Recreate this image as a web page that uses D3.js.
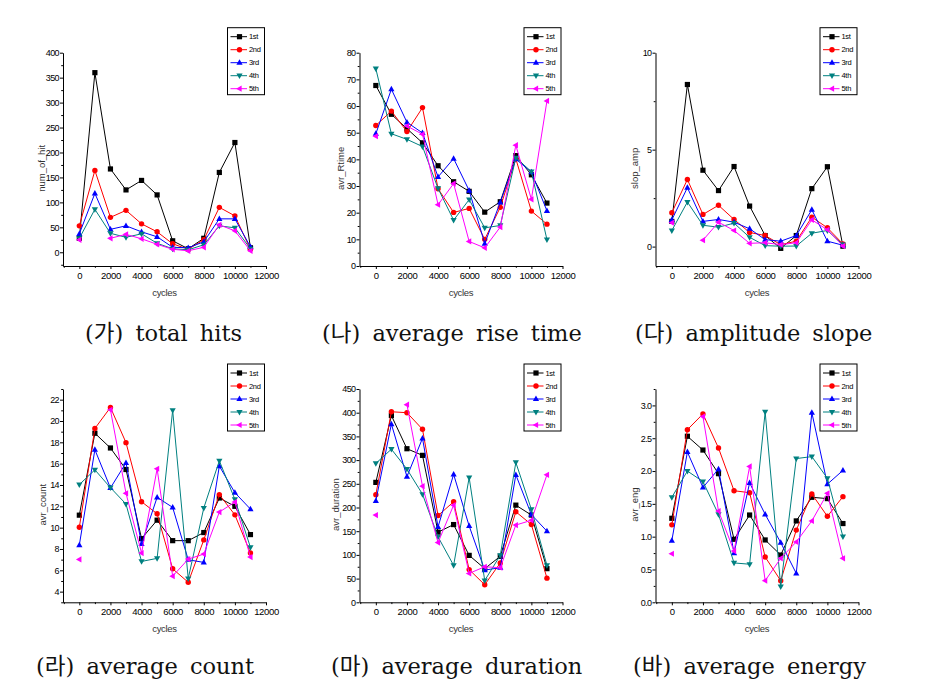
<!DOCTYPE html>
<html>
<head>
<meta charset="utf-8">
<script src="https://cdn.jsdelivr.net/npm/d3@7"></script>
<style>
  html, body { margin: 0; padding: 0; background: #fff; }
  svg { display: block; }
</style>
</head>
<body>
<svg id="chart" width="947" height="683"></svg>
<script>
// ---------------- DATA ----------------
const cycles = [0, 1000, 2000, 3000, 4000, 5000, 6000, 7000, 8000, 9000, 10000, 11000];
const seriesNames = ["1st", "2nd", "3rd", "4th", "5th"];
const xMajorTicks = [0, 2000, 4000, 6000, 8000, 10000, 12000];
const xMinorTicks = [-1000, 1000, 3000, 5000, 7000, 9000, 11000];

// rows: 1st, 2nd, 3rd, 4th, 5th
const totalHits = [
  [28, 360, 167, 125, 144, 115, 23, 7, 28, 160, 220, 9],
  [53, 164, 70, 84, 57, 41, 17, 6, 25, 90, 73, 6],
  [37, 118, 46, 53, 41, 31, 10, 9, 21, 67, 67, 11],
  [28, 86, 38, 30, 37, 18, 7, 5, 15, 53, 49, 7],
  [25, null, 28, 36, 27, 16, 6, 3, 10, 55, 43, 3]
];
const riseTime = [
  [67.7, 56.9, 51.5, 46.2, 37.6, 31.6, 28, 20.2, 24.1, 41.4, 34.2, 23.6],
  [52.7, 58.1, 50.4, 59.4, 29, 20.1, 21.6, 10, 22, 40.2, 20.6, 15.7],
  [49.6, 66.3, 53.9, 49.9, 33.4, 40.3, 28.3, 8.4, 23.9, 40.1, 35.2, 20.7],
  [74, 49.6, 47.5, 44.8, 29.1, 17.2, 24.9, 14.3, 15.2, 40.6, 35.4, 9.9],
  [48.7, null, 52.5, 49.4, 23, 30.9, 9.2, 6.8, 14.6, 45.3, 25, 61.9]
];
const ampSlope = [
  [1.3, 8.36, 3.94, 2.89, 4.13, 2.09, 0.57, -0.09, 0.57, 2.99, 4.12, 0.02],
  [1.75, 3.46, 1.66, 2.13, 1.4, 0.73, 0.57, 0.1, 0.28, 1.52, 0.97, 0.14],
  [1.38, 3.04, 1.3, 1.4, 1.26, 0.92, 0.36, 0.28, 0.57, 1.9, 0.28, 0.07],
  [0.83, 2.3, 1.1, 1.0, 1.21, 0.48, 0.05, 0.02, 0.03, 0.69, 0.83, 0.1],
  [1.23, null, 0.33, 1.26, 0.83, 0.17, 0.2, 0.1, 0.2, 1.38, 0.87, 0.03]
];
const avgCount = [
  [11.17, 18.85, 17.47, 15.45, 8.97, 10.7, 8.78, 8.78, 9.54, 12.78, 12.0, 9.35],
  [10.04, 19.3, 21.27, 17.97, 12.43, 11.3, 6.14, 4.88, 8.85, 13.1, 11.2, 7.62],
  [8.37, 17.31, 13.72, 16.08, 8.47, 12.84, 11.9, 6.99, 6.74, 15.77, 13.28, 11.74],
  [14.04, 15.42, 13.75, 12.21, 6.83, 7.12, 21.0, 5.23, 11.84, 16.27, 12.65, 8.15],
  [7.02, null, 21.05, 13.22, 7.62, 15.52, 5.45, 7.05, 7.52, 11.46, 12.4, 7.24]
];
const avgDuration = [
  [253, 394, 324, 310, 148, 164, 99, 71, 97, 205, 184, 71],
  [227, 402, 400, 365, 183, 212, 69, 37, 83, 191, 164, 51],
  [214, 376, 265, 346, 159, 270, 161, 68, 73, 269, 185, 150],
  [293, 323, 281, 228, 138, 78, 263, 46, 99, 295, 196, 78],
  [184, null, 417, 245, 126, 205, 61, 75, 73, 163, 173, 269]
];
const avgEnergy = [
  [1.28, 2.53, 2.32, 1.96, 0.96, 1.33, 0.95, 0.72, 1.24, 1.6, 1.58, 1.2],
  [1.18, 2.63, 2.87, 2.35, 1.70, 1.67, 0.69, 0.33, 1.1, 1.65, 1.31, 1.61],
  [0.94, 2.29, 1.75, 2.03, 0.75, 1.82, 1.34, 0.91, 0.44, 2.89, 1.80, 2.01],
  [1.6, 2.0, 1.84, 1.34, 0.6, 0.58, 2.9, 0.24, 2.19, 2.22, 1.89, 1.0],
  [0.74, null, 2.83, 1.39, 0.78, 2.07, 0.33, 0.67, 0.92, 1.24, 1.66, 0.67]
];

const hitsTicks = [0, 50, 100, 150, 200, 250, 300, 350, 400];
const riseTicks = [0, 10, 20, 30, 40, 50, 60, 70, 80];
const slopeTicks = [0, 5, 10];
const countTicks = [4, 6, 8, 10, 12, 14, 16, 18, 20, 22];
const durationTicks = [0, 50, 100, 150, 200, 250, 300, 350, 400, 450];
const energyTicks = [0, 0.5, 1.0, 1.5, 2.0, 2.5, 3.0];

const yTitles = ["num_of_hit", "avr_Rtime", "slop_amp", "avr_count", "avr_duration", "avr_eng"];
const captions = ["(가) total hits", "(나) average rise time", "(다) amplitude slope",
                  "(라) average count", "(마) average duration", "(바) average energy"];

// ---------------- STYLE / LAYOUT ----------------
const colors = ["#000000", "#ff0000", "#0000ff", "#008080", "#ff00ff"];
const markerShapes = ["square", "circle", "up", "down", "left"];

const panels = [
  { data: totalHits, domain: [-27.5, 400], ticks: hitsTicks, step: 50, fmt: d3.format("d") },
  { data: riseTime, domain: [0, 80], ticks: riseTicks, step: 10, fmt: d3.format("d") },
  { data: ampSlope, domain: [-1, 10], ticks: slopeTicks, step: 5, fmt: d3.format("d") },
  { data: avgCount, domain: [3, 23], ticks: countTicks, step: 2, fmt: d3.format("d") },
  { data: avgDuration, domain: [0, 450], ticks: durationTicks, step: 50, fmt: d3.format("d") },
  { data: avgEnergy, domain: [0, 3.25], ticks: energyTicks, step: 0.5, fmt: d3.format(".1f") }
];

const colLeft = [63, 359.5, 655.5];
const rowTop = [52.7, 389];
const plotW = 203, plotH = 213.3;
const titleOffset = [21, 19, 20.5, 20.6, 24.3, 20.7];
const capX = [85, 322, 635, 36, 331, 633];
const capBase = [341, 674];

const svg = d3.select("#chart");

function markerPath(shape) {
  switch (shape) {
    case "square": return "M-2.6,-2.6H2.6V2.6H-2.6Z";
    case "circle": return d3.symbol(d3.symbolCircle, Math.PI * 2.7 * 2.7)();
    case "up": return "M0,-3.4L3.1,2.1L-3.1,2.1Z";
    case "down": return "M0,3.4L3.1,-2.1L-3.1,-2.1Z";
    case "left": return "M-3.4,0L2.1,-3.1L2.1,3.1Z";
  }
}

panels.forEach((p, i) => {
  const col = i % 3, row = Math.floor(i / 3);
  const left = colLeft[col], top = rowTop[row];
  const x = d3.scaleLinear().domain([-1050, 12000]).range([left, left + plotW]);
  const y = d3.scaleLinear().domain(p.domain).range([top + plotH, top]);
  const g = svg.append("g");

  // y axis (major + minor)
  const yMinor = [];
  for (let v = p.ticks[0] - p.step / 2; v <= p.domain[1] + 1e-9; v += p.step) {
    if (v >= p.domain[0] - 1e-9) yMinor.push(+v.toFixed(4));
  }
  g.append("g").attr("transform", `translate(${left},0)`)
    .call(d3.axisLeft(y).tickValues(yMinor).tickSize(1.8).tickFormat(""))
    .call(s => s.select(".domain").remove());
  const ya = g.append("g").attr("transform", `translate(${left},0)`)
    .call(d3.axisLeft(y).tickValues(p.ticks).tickSize(3).tickSizeOuter(0).tickPadding(1).tickFormat(p.fmt));
  ya.selectAll("text").attr("font-family", "Liberation Sans, Arial, sans-serif")
    .attr("font-size", "9px").attr("letter-spacing", "-0.6px").attr("fill", "#000");

  // x axis (major + minor)
  g.append("g").attr("transform", `translate(0,${top + plotH})`)
    .call(d3.axisBottom(x).tickValues(xMinorTicks).tickSize(1.8).tickFormat(""))
    .call(s => s.select(".domain").remove());
  const xa = g.append("g").attr("transform", `translate(0,${top + plotH})`)
    .call(d3.axisBottom(x).tickValues(xMajorTicks).tickSize(3).tickSizeOuter(0).tickPadding(3).tickFormat(d3.format("d")));
  xa.selectAll("text").attr("font-family", "Liberation Sans, Arial, sans-serif")
    .attr("font-size", "9.5px").attr("letter-spacing", "-0.35px").attr("fill", "#000");

  g.selectAll(".domain, .tick line").attr("stroke", "#000").attr("stroke-width", 1);

  // axis titles
  g.append("text")
    .attr("transform", `translate(${left - titleOffset[i]},${top + plotH / 2 + 9}) rotate(-90)`)
    .attr("text-anchor", "middle").attr("dy", "0.35em")
    .attr("font-family", "Liberation Sans, Arial, sans-serif").attr("font-size", "9.5px")
    .attr("fill", "#333").text(yTitles[i]);
  g.append("text")
    .attr("x", left + plotW / 2).attr("y", top + plotH + 30)
    .attr("text-anchor", "middle")
    .attr("font-family", "Liberation Sans, Arial, sans-serif").attr("font-size", "9.5px")
    .attr("letter-spacing", "-0.3px")
    .attr("fill", "#333").text("cycles");

  // series
  const line = d3.line().defined(d => d[1] !== null).x(d => x(d[0])).y(d => y(d[1]));
  p.data.forEach((vals, si) => {
    const pts = cycles.map((c, k) => [c, vals[k]]);
    g.append("path").attr("d", line(pts)).attr("fill", "none")
      .attr("stroke", colors[si]).attr("stroke-width", 1);
    g.selectAll(null).data(pts.filter(d => d[1] !== null)).enter().append("path")
      .attr("transform", d => `translate(${x(d[0])},${y(d[1])})`)
      .attr("d", markerPath(markerShapes[si])).attr("fill", colors[si]);
  });

  // legend
  const lx = left + plotW - 1.5 - 37, ly = top - 25;
  const lg = g.append("g");
  lg.append("rect").attr("x", lx).attr("y", ly).attr("width", 37).attr("height", 67)
    .attr("fill", "#fff").attr("stroke", "#000").attr("stroke-width", 1);
  seriesNames.forEach((name, si) => {
    const yy = ly + 9 + si * 13;
    lg.append("line").attr("x1", lx + 3).attr("x2", lx + 19.5).attr("y1", yy).attr("y2", yy)
      .attr("stroke", colors[si]).attr("stroke-width", 1);
    lg.append("path").attr("transform", `translate(${lx + 12},${yy})`)
      .attr("d", markerPath(markerShapes[si])).attr("fill", colors[si]);
    lg.append("text").attr("x", lx + 21.5).attr("y", yy).attr("dy", "0.35em")
      .attr("font-family", "Liberation Sans, Arial, sans-serif").attr("font-size", "7.5px")
      .attr("letter-spacing", "-0.3px").attr("fill", "#000").text(name);
  });

  // caption
  svg.append("text").attr("x", capX[i]).attr("y", capBase[row])
    .attr("font-family", "DejaVu Serif, Noto Sans CJK KR, serif")
    .attr("font-size", "22.5px").attr("word-spacing", "5px").attr("fill", "#111")
    .text(captions[i]);
});
</script>
</body>
</html>
